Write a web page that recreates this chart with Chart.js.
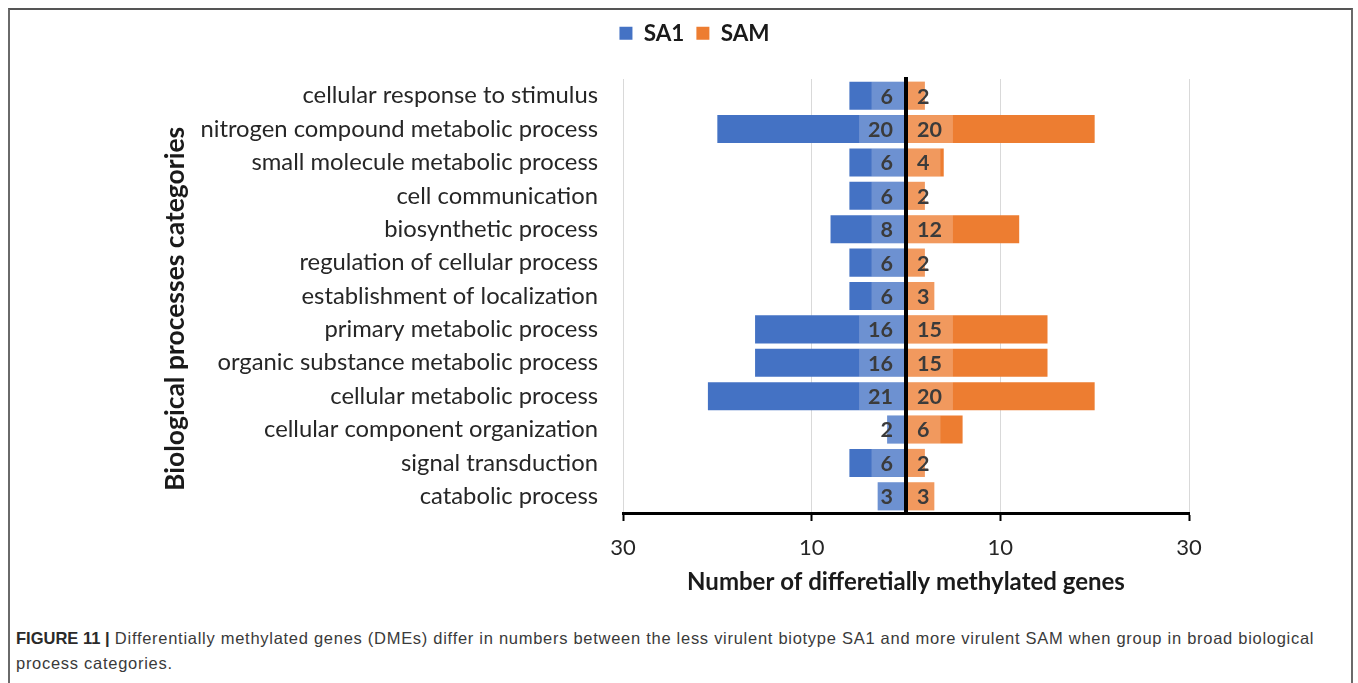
<!DOCTYPE html>
<html>
<head>
<meta charset="utf-8">
<script src="https://cdn.jsdelivr.net/npm/chart.js@4.4.0/dist/chart.umd.min.js"></script>
<style>
  html, body { margin:0; padding:0; background:#fff; width:1358px; height:683px; overflow:hidden; }
  #frame { position:absolute; left:8px; top:8px; width:1345px; height:700px; border-top:2px solid #555; border-left:2px solid #6a6a6a; border-right:2px solid #6a6a6a; box-sizing:border-box; }
  #wrap { position:absolute; left:0; top:0; width:1358px; height:610px; }
  #caption { position:absolute; left:16px; top:626px; width:1336px; font-family:"Liberation Sans", Arial, sans-serif; font-size:16.5px; line-height:25px; color:#3a3a3a; letter-spacing:0.72px; white-space:nowrap; }
  #caption b { color:#2a2a2a; letter-spacing:0; }
</style>
</head>
<body>
<div id="frame"></div>
<div id="wrap"><canvas id="c" width="1358" height="610"></canvas></div>
<div id="caption"><b>FIGURE 11 |</b> Differentially methylated genes (DMEs) differ in numbers between the less virulent biotype SA1 and more virulent SAM when group in broad biological<br>process categories.</div>
<script>
const categories = [
  "cellular response to stimulus",
  "nitrogen compound metabolic process",
  "small molecule metabolic process",
  "cell communication",
  "biosynthetic process",
  "regulation of cellular process",
  "establishment of localization",
  "primary metabolic process",
  "organic substance metabolic process",
  "cellular metabolic process",
  "cellular component organization",
  "signal transduction",
  "catabolic process"
];
const sa1Values = [6, 20, 6, 6, 8, 6, 6, 16, 16, 21, 2, 6, 3];
const samValues = [2, 20, 4, 2, 12, 2, 3, 15, 15, 20, 6, 2, 3];
const xTickValues = [-30, -10, 10, 30];
const seriesNames = ["SA1", "SAM"];

const FONT = "Lato, 'Open Sans', sans-serif";
const TXT = "#262626";

const legendFix = {
  id: 'legendFix',
  afterInit(chart) {
    const lg = chart.legend;
    if (lg) {
      const f = lg.fit.bind(lg);
      lg.fit = function () { f(); this.height = 69; };
    }
  },
  afterLayout(chart) {
    const lg = chart.legend;
    if (lg) { lg.left += 21; lg.right += 21; }
  }
};

const centerLine = {
  id: 'centerLine',
  afterDatasetsDraw(chart) {
    const ctx = chart.ctx;
    const xs = chart.scales.x;
    const a = chart.chartArea;
    const x0 = xs.getPixelForValue(0);
    ctx.save();
    ctx.strokeStyle = '#000';
    ctx.lineWidth = 4;
    ctx.beginPath();
    ctx.moveTo(x0, a.top - 2);
    ctx.lineTo(x0, a.bottom);
    ctx.stroke();
    ctx.restore();
  }
};

const valueLabels = {
  id: 'valueLabels',
  afterDatasetsDraw(chart) {
    const ctx = chart.ctx;
    const x0 = chart.scales.x.getPixelForValue(0);
    ctx.save();
    ctx.font = "bold 21.5px " + FONT;
    ctx.textBaseline = 'middle';
    ctx.textAlign = 'center';
    chart.data.datasets.forEach((ds, di) => {
      const meta = chart.getDatasetMeta(di);
      meta.data.forEach((bar, i) => {
        const v = Math.abs(ds.data[i]);
        const txt = String(v);
        const tw = ctx.measureText(txt).width;
        const bw = tw + 20;
        const dir = ds.data[i] < 0 ? -1 : 1;
        const props = bar.getProps(['x', 'y', 'base', 'height'], true);
        const barEnd = props.x;
        const h = props.height;
        const outer = x0 + dir * (bw + 2);
        const inner = x0 + dir * 2;
        const lo = Math.min(outer, inner), hi = Math.max(outer, inner);
        const bLo = Math.min(barEnd, props.base), bHi = Math.max(barEnd, props.base);
        const cLo = Math.max(lo, bLo), cHi = Math.min(hi, bHi);
        if (cHi > cLo) {
          ctx.fillStyle = 'rgba(255,255,255,0.22)';
          ctx.fillRect(cLo, props.y - h / 2, cHi - cLo, h);
        }
        ctx.fillStyle = '#3b3b3b';
        const cx = x0 + dir * (bw / 2 + 2) - 1;
        ctx.fillText(txt, cx, props.y + 1);
      });
    });
    ctx.restore();
  }
};

new Chart(document.getElementById('c'), {
  type: 'bar',
  data: {
    labels: categories,
    datasets: [
      { label: seriesNames[0], data: sa1Values.map(v => -v), backgroundColor: '#4472C4', borderWidth: 0, barPercentage: 0.84, categoryPercentage: 1 },
      { label: seriesNames[1], data: samValues, backgroundColor: '#ED7D31', borderWidth: 0, barPercentage: 0.84, categoryPercentage: 1 }
    ]
  },
  options: {
    indexAxis: 'y',
    responsive: false,
    animation: false,
    layout: { padding: { top: 10, left: 158, right: 169, bottom: 0 } },
    plugins: {
      legend: {
        position: 'top',
        labels: {
          boxWidth: 13, boxHeight: 13, padding: 12,
          color: '#1a1a1a',
          font: { family: FONT, size: 22.5, weight: 'bold' }
        }
      },
      tooltip: { enabled: false }
    },
    scales: {
      x: {
        stacked: true,
        min: -30, max: 30,
        afterBuildTicks(scale) { scale.ticks = xTickValues.map(v => ({ value: v })); },
        afterFit(scale) { scale.height = 97; },
        ticks: {
          callback: (v) => String(Math.abs(v)),
          color: TXT, padding: 14,
          font: { family: FONT, size: 22 }
        },
        grid: { color: '#d9d9d9', lineWidth: 1, tickColor: '#000', tickLength: 8, tickWidth: 2 },
        border: { color: '#000', width: 3 },
        title: {
          display: true, text: 'Number of differetially methylated genes',
          color: '#1a1a1a', padding: { top: 4, bottom: 13 },
          font: { family: FONT, size: 24, weight: 'bold' }
        }
      },
      y: {
        stacked: true,
        afterFit(scale) { scale.width = 623 - 158; },
        ticks: { color: TXT, padding: 25, font: { family: FONT, size: 23.8 } },
        grid: { display: false, drawTicks: false },
        border: { display: false },
        title: {
          display: true, text: 'Biological processes categories    ',
          color: '#1a1a1a', padding: { top: 2, bottom: 0 },
          font: { family: FONT, size: 26.5, weight: 'bold' }
        }
      }
    }
  },
  plugins: [legendFix, centerLine, valueLabels]
});
</script>
</body>
</html>
